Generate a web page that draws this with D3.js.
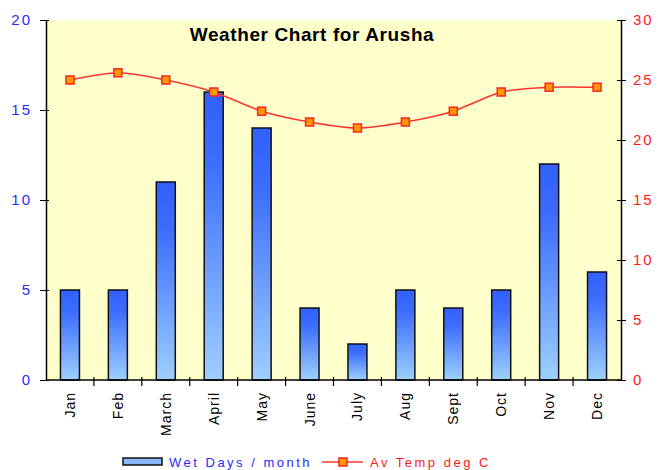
<!DOCTYPE html>
<html>
<head>
<meta charset="utf-8">
<script src="https://cdn.jsdelivr.net/npm/d3@7"></script>
<style>
  body { margin: 0; background: #fff; }
  text { font-family: "Liberation Sans", Arial, sans-serif; }
</style>
</head>
<body>
<svg id="myGraph" width="658" height="470"></svg>
<script>
var months = ['Jan', 'Feb', 'March', 'April', 'May', 'June', 'July', 'Aug', 'Sept', 'Oct', 'Nov', 'Dec'];
var wetDays = [5, 5, 11, 16, 14, 4, 2, 5, 4, 5, 12, 6];
var avTemp = [25, 25.6, 25, 24, 22.4, 21.5, 21, 21.5, 22.4, 24, 24.4, 24.4];
var leftTicks = [0, 5, 10, 15, 20];
var rightTicks = [0, 5, 10, 15, 20, 25, 30];

var svg = d3.select('#myGraph');
var plotLeft = 46, plotRight = 621, plotTop = 20, plotBottom = 380;

var x = d3.scaleBand().domain(months).range([plotLeft, plotRight]);
var yL = d3.scaleLinear().domain([0, 20]).range([plotBottom, plotTop]);
var yR = d3.scaleLinear().domain([0, 30]).range([plotBottom, plotTop]);

// gradient for bars
var defs = svg.append('defs');
var grad = defs.append('linearGradient')
  .attr('id', 'barGrad')
  .attr('x1', 0).attr('y1', 0).attr('x2', 0).attr('y2', 1);
grad.append('stop').attr('offset', '0%').attr('stop-color', '#3060ff');
grad.append('stop').attr('offset', '25%').attr('stop-color', '#3d6eff');
grad.append('stop').attr('offset', '100%').attr('stop-color', '#9dd0ff');

// plot background
svg.append('rect')
  .attr('x', plotLeft).attr('y', plotTop)
  .attr('width', plotRight - plotLeft).attr('height', plotBottom - plotTop)
  .attr('fill', '#ffffcc');

// title
svg.append('text')
  .attr('x', 312).attr('y', 41)
  .attr('text-anchor', 'middle')
  .style('font-size', '19px')
  .style('font-weight', 'bold')
  .style('letter-spacing', '0.6px')
  .text('Weather Chart for Arusha');

// bars
var barW = 19;
svg.selectAll('rect.bar')
  .data(wetDays)
  .enter()
  .append('rect')
  .attr('class', 'bar')
  .attr('x', function(d, i) { return x(months[i]) + x.bandwidth() / 2 - barW / 2; })
  .attr('y', function(d) { return yL(d); })
  .attr('width', barW)
  .attr('height', function(d) { return plotBottom - yL(d); })
  .attr('fill', 'url(#barGrad)')
  .attr('stroke', '#111')
  .attr('stroke-width', 1.5);

// temperature line
var line = d3.line()
  .x(function(d, i) { return x(months[i]) + x.bandwidth() / 2; })
  .y(function(d) { return yR(d); })
  .curve(d3.curveCardinal.tension(0.3));

svg.append('path')
  .datum(avTemp)
  .attr('d', line)
  .attr('fill', 'none')
  .attr('stroke', '#ff3333')
  .attr('stroke-width', 1.5);

svg.selectAll('rect.mark')
  .data(avTemp)
  .enter()
  .append('rect')
  .attr('class', 'mark')
  .attr('x', function(d, i) { return x(months[i]) + x.bandwidth() / 2 - 4; })
  .attr('y', function(d) { return yR(d) - 4; })
  .attr('width', 8).attr('height', 8)
  .attr('fill', '#ff9900')
  .attr('stroke', '#ff2222')
  .attr('stroke-width', 1.5);

// left axis
var axL = svg.append('g')
  .attr('transform', 'translate(' + plotLeft + ',0)')
  .call(d3.axisLeft(yL).tickValues(leftTicks).tickSize(6).tickSizeOuter(0));
axL.selectAll('.tick line').attr('x2', -6).attr('x1', 3);
axL.select('.domain').attr('stroke', '#000').attr('stroke-width', 1.5);
axL.selectAll('text')
  .attr('x', -14)
  .style('font-size', '15px')
  .style('letter-spacing', '2px')
  .attr('fill', '#2b2bff');

// right axis
var axR = svg.append('g')
  .attr('transform', 'translate(' + plotRight + ',0)')
  .call(d3.axisRight(yR).tickValues(rightTicks).tickSize(5).tickSizeOuter(0));
axR.selectAll('.tick line').attr('x1', -4);
axR.select('.domain').attr('stroke', '#000').attr('stroke-width', 1.5);
axR.selectAll('text')
  .attr('x', 12)
  .style('font-size', '15px')
  .style('letter-spacing', '2px')
  .attr('fill', '#ff1a1a');

// bottom axis
svg.append('line')
  .attr('x1', plotLeft).attr('x2', plotRight)
  .attr('y1', plotBottom).attr('y2', plotBottom)
  .attr('stroke', '#000').attr('stroke-width', 1.5);
svg.selectAll('line.xtick')
  .data(months.slice(1))
  .enter()
  .append('line')
  .attr('class', 'xtick')
  .attr('x1', function(d) { return x(d); })
  .attr('x2', function(d) { return x(d); })
  .attr('y1', plotBottom - 3).attr('y2', plotBottom + 6)
  .attr('stroke', '#000').attr('stroke-width', 1.2);

svg.selectAll('text.xlab')
  .data(months)
  .enter()
  .append('text')
  .attr('class', 'xlab')
  .attr('transform', function(d) {
    return 'translate(' + (x(d) + x.bandwidth() / 2 + 5) + ',' + (plotBottom + 12) + ') rotate(-90)';
  })
  .attr('text-anchor', 'end')
  .style('font-size', '14px')
  .style('letter-spacing', '1px')
  .text(function(d) { return d; });

// legend
var lg = svg.append('g');
lg.append('rect')
  .attr('x', 123).attr('y', 458).attr('width', 39).attr('height', 7)
  .attr('fill', '#88b8ff').attr('stroke', '#111').attr('stroke-width', 1.5);
lg.append('text')
  .attr('x', 169).attr('y', 467)
  .style('font-size', '13px')
  .style('letter-spacing', '2.5px')
  .attr('fill', '#2b2bff')
  .text('Wet Days / month');
lg.append('line')
  .attr('x1', 322).attr('x2', 363).attr('y1', 462).attr('y2', 462)
  .attr('stroke', '#ff3333').attr('stroke-width', 1.5);
lg.append('rect')
  .attr('x', 339).attr('y', 458).attr('width', 8).attr('height', 8)
  .attr('fill', '#ff9900').attr('stroke', '#ff2222').attr('stroke-width', 1.5);
lg.append('text')
  .attr('x', 370).attr('y', 467)
  .style('font-size', '13px')
  .style('letter-spacing', '2.5px')
  .attr('fill', '#ff1a1a')
  .text('Av Temp deg C');
</script>
</body>
</html>
